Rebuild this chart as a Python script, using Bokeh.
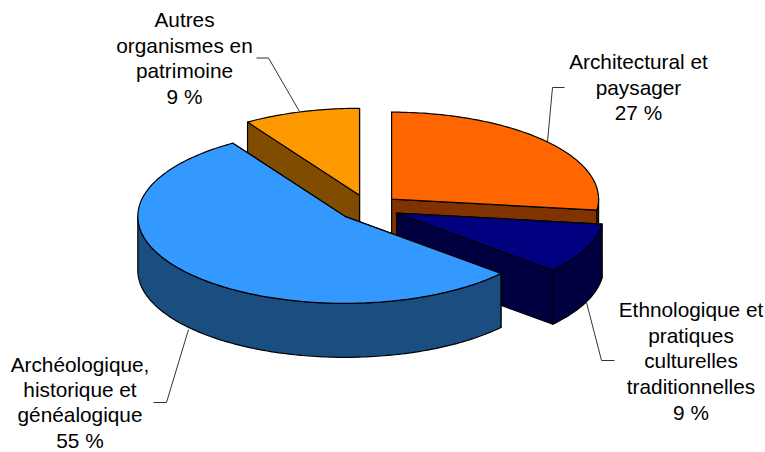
import math
from bokeh.plotting import figure
from bokeh.models import Range1d
from bokeh.embed import file_html
from bokeh.resources import INLINE
from bokeh.core.properties import value

# ---- data ----
categories = ["Architectural et paysager",
              "Ethnologique et pratiques culturelles traditionnelles",
              "Archéologique, historique et généalogique",
              "Autres organismes en patrimoine"]
shares = [27.0, 9.4, 54.5, 9.1]
label_lines = [["Architectural et", "paysager", "27 %"],
               ["Ethnologique et", "pratiques", "culturelles", "traditionnelles", "9 %"],
               ["Archéologique,", "historique et", "généalogique", "55 %"],
               ["Autres", "organismes en", "patrimoine", "9 %"]]
top_colors = ["#FF6600", "#000080", "#3399FF", "#FF9900"]
wall_colors = ["#803300", "#000040", "#1A4D80", "#804D00"]

# ---- layout (picture pixel coordinates) ----
W, H = 765, 452
CX, CY = 367.8, 207.3
RX, RY = 207.0, 87.0
DEPTH = 54.0
EXPLODE = 0.15
FONT = "Liberation Sans"
FS = "20.8px"
label_pos = [(638, 61, 25.6), (690.5, 309, 25.7), (79.5, 364, 25.2), (184, 19, 25.7)]
leaders = [[(564, 87), (552, 87), (547, 141)],
           [(586, 302), (601, 360), (614, 360)],
           [(188, 329), (166, 402), (153, 402)],
           [(256, 57.5), (268, 57.5), (299, 111)]]

p = figure(width=W, height=H, output_backend="svg", toolbar_location=None,
           x_range=Range1d(0, W), y_range=Range1d(H, 0),
           min_border=0, outline_line_color=None)
p.xaxis.visible = False
p.yaxis.visible = False
p.xgrid.visible = False
p.ygrid.visible = False


def pt(cx, cy, deg, dy=0.0):
    a = math.radians(deg)
    return cx + RX * math.sin(a), cy - RY * math.cos(a) + dy


def arc(cx, cy, a0, a1, dy=0.0):
    n = max(2, int(abs(a1 - a0)) + 2)
    return [pt(cx, cy, a0 + (a1 - a0) * i / (n - 1), dy) for i in range(n)]


def poly(points, color):
    p.patch([q[0] for q in points], [q[1] for q in points], fill_color=color,
            line_color="black", line_width=1.2, line_join="round")


# leaders behind the pie
for seg in leaders:
    p.line([q[0] for q in seg], [q[1] for q in seg], line_color="#333333", line_width=1)

cum = 0.0
slices = []
total = sum(shares)
for s, t, w in zip(shares, top_colors, wall_colors):
    a0 = cum / total * 360
    cum += s
    a1 = cum / total * 360
    slices.append((a0, a1, t, w))

# back to front: yellow, orange, navy, blue
for idx in [3, 0, 1, 2]:
    a0, a1, t, w = slices[idx]
    m = math.radians((a0 + a1) / 2)
    cx = CX + EXPLODE * RX * math.sin(m)
    cy = CY - EXPLODE * RY * math.cos(m)
    for ang in (a0, a1):
        e = pt(cx, cy, ang)
        poly([(cx, cy), e, (e[0], e[1] + DEPTH), (cx, cy + DEPTH)], w)
    lo, hi = max(a0, 90), min(a1, 270)
    if hi > lo:
        poly(arc(cx, cy, lo, hi) + arc(cx, cy, hi, lo, DEPTH), w)
    poly([(cx, cy)] + arc(cx, cy, a0, a1), t)

# labels
for lines, (lx, ly, step) in zip(label_lines, label_pos):
    for i, line in enumerate(lines):
        p.text([lx], [ly + i * step], text=[line], text_align="center",
               text_baseline="middle", text_color="black",
               text_font=value(FONT), text_font_size=value(FS))

open("out.html", "w").write(file_html(p, INLINE))
